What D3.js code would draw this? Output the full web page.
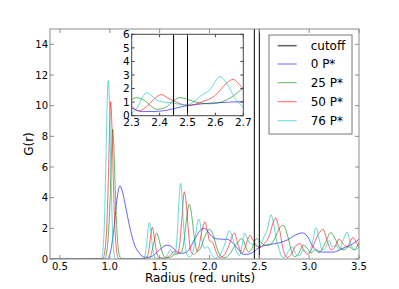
<!DOCTYPE html>
<html><head><meta charset="utf-8">
<script src="https://cdn.jsdelivr.net/npm/d3@7"></script>
<style>body{margin:0;background:#fff}svg{display:block;font-family:"DejaVu Sans",sans-serif}</style>
</head><body><svg id="c" width="399" height="289"></svg>
<script>
const seriesNames = ["0 P*", "25 P*", "50 P*", "76 P*"];
const seriesColors = ["#0000ff", "#008000", "#ff0000", "#00bfbf"];
const cutoffs = [2.45, 2.5];
const xTicks = [0.5, 1.0, 1.5, 2.0, 2.5, 3.0, 3.5];
const yTicks = [0, 2, 4, 6, 8, 10, 12, 14];
const insetXTicks = [2.3, 2.4, 2.5, 2.6, 2.7];
const insetYTicks = [0, 1, 2, 3, 4, 5, 6];

const p0 = [[0.4,0],[0.97,0],[1.0,0.3],[1.03,1.4],[1.05,2.5],[1.07,3.8],[1.09,4.6],[1.1,4.78],[1.12,4.55],[1.15,3.7],[1.18,2.7],[1.21,1.8],[1.25,0.9],[1.3,0.35],[1.35,0.12],[1.4,0.12],[1.45,0.3],[1.5,0.6],[1.57,0.9],[1.62,0.8],[1.67,0.5],[1.72,0.37],[1.77,0.45],[1.82,0.9],[1.87,1.5],[1.92,1.95],[1.95,2.0],[2.0,1.65],[2.05,1.35],[2.1,1.3],[2.18,1.28],[2.24,1.0],[2.3,0.55],[2.34,0.3],[2.4,0.33],[2.5,0.75],[2.6,0.95],[2.7,1.05],[2.78,1.24],[2.86,1.55],[2.93,1.7],[2.98,1.5],[3.03,0.9],[3.08,0.55],[3.14,0.45],[3.24,0.45],[3.34,0.7],[3.44,1.0],[3.5,1.3]];

const p25 = [[0.4,0],[0.95,0.02],[0.97,0.5],[0.99,2.0],[1.005,4.3],[1.018,7.0],[1.029,8.46],[1.04,7.4],[1.055,4.5],[1.07,2.0],[1.085,0.7],[1.1,0.15],[1.13,0],[1.38,0],[1.41,0.2],[1.44,1.0],[1.47,1.68],[1.5,1.1],[1.53,0.35],[1.56,0.1],[1.6,0.1],[1.65,0.3],[1.69,0.35],[1.72,0.45],[1.74,1.0],[1.77,2.6],[1.797,3.57],[1.82,2.9],[1.85,1.3],[1.88,0.5],[1.91,0.7],[1.95,1.4],[2.0,1.94],[2.04,1.5],[2.08,0.6],[2.12,0.15],[2.16,0.1],[2.2,0.3],[2.26,0.9],[2.3,1.2],[2.316,1.33],[2.34,1.2],[2.37,0.7],[2.39,0.47],[2.42,0.6],[2.45,1.1],[2.473,1.33],[2.5,1.2],[2.54,0.95],[2.58,0.88],[2.62,1.0],[2.66,1.4],[2.7,2.0],[2.74,2.2],[2.78,1.6],[2.82,0.6],[2.85,0.15],[2.89,0.3],[2.94,0.9],[2.98,0.7],[3.02,0.4],[3.06,0.6],[3.1,0.4],[3.15,0.9],[3.22,1.72],[3.27,1.2],[3.31,0.7],[3.35,0.6],[3.4,0.8],[3.45,0.6],[3.5,1.1]];

const p50 = [[0.4,0],[0.93,0.03],[0.95,0.5],[0.97,2.2],[0.985,5.2],[0.998,8.6],[1.009,10.26],[1.02,8.9],[1.035,5.2],[1.05,2.2],[1.065,0.7],[1.08,0.15],[1.1,0],[1.36,0.03],[1.39,0.5],[1.41,1.5],[1.426,2.07],[1.445,1.5],[1.465,0.6],[1.49,0.1],[1.55,0.05],[1.6,0.2],[1.648,0.5],[1.68,0.35],[1.7,0.9],[1.725,2.8],[1.747,4.39],[1.77,3.4],[1.79,1.7],[1.815,0.5],[1.84,0.3],[1.89,0.7],[1.92,1.7],[1.955,2.43],[1.98,1.8],[2.0,1.2],[2.03,1.1],[2.07,0.4],[2.1,0.1],[2.14,0.2],[2.19,0.8],[2.25,1.7],[2.28,1.1],[2.3,0.7],[2.324,0.35],[2.36,0.8],[2.39,1.4],[2.407,1.55],[2.43,1.3],[2.46,1.0],[2.5,0.75],[2.55,1.0],[2.6,1.5],[2.64,2.4],[2.664,2.68],[2.69,2.2],[2.7,2.0],[2.74,0.6],[2.78,0.1],[2.82,0.3],[2.87,0.9],[2.91,1.0],[2.95,0.5],[2.99,0.3],[3.03,0.7],[3.09,1.6],[3.14,1.93],[3.18,1.2],[3.22,0.6],[3.26,0.8],[3.3,1.3],[3.34,1.0],[3.38,0.8],[3.44,1.4],[3.48,1.0],[3.5,0.8]];

const p76 = [[0.4,0],[0.915,0],[0.94,1.4],[0.96,6.1],[0.975,10.5],[0.985,11.63],[0.995,10.5],[1.01,6.1],[1.03,1.4],[1.05,0.1],[1.07,0],[1.34,0.05],[1.36,0.5],[1.375,1.3],[1.385,2.0],[1.396,2.37],[1.41,1.9],[1.425,1.0],[1.44,0.35],[1.46,0.05],[1.55,0.05],[1.58,0.3],[1.61,0.6],[1.64,0.3],[1.66,0.5],[1.68,2.0],[1.695,3.9],[1.71,4.94],[1.725,4.0],[1.74,2.2],[1.76,0.7],[1.78,0.2],[1.8,0.15],[1.83,0.4],[1.86,1.5],[1.88,2.4],[1.894,2.6],[1.91,2.2],[1.93,1.0],[1.95,0.7],[1.98,0.8],[2.02,0.3],[2.06,0.05],[2.1,0.2],[2.15,0.9],[2.2,1.85],[2.24,1.2],[2.27,0.5],[2.3,0.22],[2.32,0.6],[2.34,1.4],[2.354,1.7],[2.37,1.5],[2.4,1.05],[2.44,0.95],[2.47,0.85],[2.5,0.8],[2.52,1.0],[2.55,1.5],[2.58,1.9],[2.617,2.88],[2.64,2.4],[2.67,1.3],[2.7,0.62],[2.72,0.2],[2.75,0.1],[2.79,0.5],[2.83,0.8],[2.87,0.3],[2.9,0.2],[2.94,0.6],[2.97,0.5],[3.0,0.4],[3.03,1.0],[3.07,2.04],[3.1,1.3],[3.13,0.6],[3.16,0.7],[3.2,1.2],[3.23,0.8],[3.27,0.9],[3.3,0.6],[3.34,1.2],[3.38,1.75],[3.42,0.9],[3.46,0.6],[3.5,0.8]];

const seriesData = [p0, p25, p50, p76];

const svg = d3.select("#c");
const M = {l: 50, r: 359, t: 29, b: 259};
const x = d3.scaleLinear().domain([0.4, 3.5]).range([M.l, M.r]);
const y = d3.scaleLinear().domain([0, 15]).range([M.b, M.t]);

const defs = svg.append("defs");
defs.append("clipPath").attr("id", "mainClip").append("rect")
  .attr("x", M.l).attr("y", M.t).attr("width", M.r - M.l).attr("height", M.b - M.t);

function drawSeries(g, xs, ys, clip) {
  const line = d3.line().x(d => xs(d[0])).y(d => ys(d[1])).curve(d3.curveMonotoneX);
  const grp = g.append("g").attr("clip-path", `url(#${clip})`);
  seriesData.forEach((s, i) => {
    grp.append("path").attr("d", line(s)).attr("fill", "none")
      .attr("stroke", seriesColors[i]).attr("stroke-opacity", 0.6).attr("stroke-width", 1);
  });
  cutoffs.forEach((c, i) => {
    grp.append("line").attr("x1", xs(c)).attr("x2", xs(c))
      .attr("y1", ys.range()[0]).attr("y2", ys.range()[1])
      .attr("stroke", "#000").attr("stroke-width", 1);
  });
}

const main = svg.append("g");
drawSeries(main, x, y, "mainClip");

function frameAndTicks(g, xs, ys, xt, yt, tl, color, xfmt, yfmt, fs, xOff) {
  const [x0, x1] = xs.range(), [y0, y1] = ys.range();
  xt.forEach(v => {
    g.append("line").attr("x1", xs(v)).attr("x2", xs(v)).attr("y1", y0).attr("y2", y0 - tl).attr("stroke", color);
    g.append("line").attr("x1", xs(v)).attr("x2", xs(v)).attr("y1", y1).attr("y2", y1 + tl).attr("stroke", color);
  });
  yt.forEach(v => {
    g.append("line").attr("x1", x0).attr("x2", x0 + tl).attr("y1", ys(v)).attr("y2", ys(v)).attr("stroke", color);
    g.append("line").attr("x1", x1).attr("x2", x1 - tl).attr("y1", ys(v)).attr("y2", ys(v)).attr("stroke", color);
  });
  g.append("rect").attr("x", x0).attr("y", y1).attr("width", x1 - x0).attr("height", y0 - y1)
    .attr("fill", "none").attr("stroke", color).attr("stroke-width", 1);
  g.selectAll(null).data(xt).enter().append("text")
    .attr("x", d => xs(d)).attr("y", y0 + xOff).attr("text-anchor", "middle")
    .attr("font-size", fs).attr("fill", "#000").text(xfmt);
  g.selectAll(null).data(yt).enter().append("text")
    .attr("x", x0 - 2).attr("y", d => ys(d)).attr("dy", "0.36em").attr("text-anchor", "end")
    .attr("font-size", fs).attr("fill", "#000").text(yfmt);
}
frameAndTicks(main, x, y, xTicks, yTicks, 4, "#8c8c8c", d3.format(".1f"), d3.format("d"), 10, 10.5);

svg.append("text").attr("x", 200).attr("y", 282).attr("text-anchor", "middle")
  .attr("font-size", 12).text("Radius (red. units)");
svg.append("text").attr("transform", "translate(33,144) rotate(-90)").attr("text-anchor", "middle")
  .attr("font-size", 12).text("G(r)");

const I = {l: 131.7, r: 243.3, t: 34.3, b: 115.7};
const xi = d3.scaleLinear().domain([2.3, 2.7]).range([I.l, I.r]);
const yi = d3.scaleLinear().domain([0, 6]).range([I.b, I.t]);
defs.append("clipPath").attr("id", "insetClip").append("rect")
  .attr("x", I.l).attr("y", I.t).attr("width", I.r - I.l).attr("height", I.b - I.t);
const inset = svg.append("g");
inset.append("rect").attr("x", I.l).attr("y", I.t).attr("width", I.r - I.l).attr("height", I.b - I.t).attr("fill", "#fff");
drawSeries(inset, xi, yi, "insetClip");
frameAndTicks(inset, xi, yi, insetXTicks, insetYTicks, 3, "#444", d3.format(".1f"), d3.format("d"), 10.5, 10);

const L = {x: 269, y: 35, w: 83, h: 99};
const leg = svg.append("g");
leg.append("rect").attr("x", L.x).attr("y", L.y).attr("width", L.w).attr("height", L.h)
  .attr("fill", "#fff").attr("stroke", "#777").attr("stroke-width", 1);
const legNames = ["cutoff"].concat(seriesNames);
const legColors = ["#000"].concat(seriesColors);
const legY = [45.7, 64, 82.7, 101.7, 120.7];
legNames.forEach((n, i) => {
  leg.append("line").attr("x1", 277.7).attr("x2", 296.7).attr("y1", legY[i]).attr("y2", legY[i])
    .attr("stroke", legColors[i]).attr("stroke-opacity", 0.6).attr("stroke-width", i === 0 ? 1.6 : 1);
  leg.append("text").attr("x", 310.7).attr("y", legY[i]).attr("dy", "0.36em")
    .attr("font-size", 12).text(n);
});
</script></body></html>
